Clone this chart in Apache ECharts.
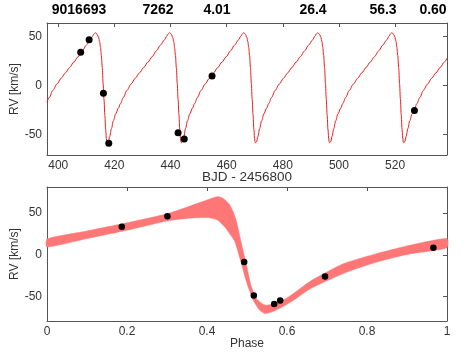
<!DOCTYPE html>
<html>
<head>
<meta charset="utf-8">
<script src="https://cdn.jsdelivr.net/npm/echarts@6/dist/echarts.min.js"></script>
<style>
html,body{margin:0;padding:0;background:#fff;}
#chart{width:471px;height:353px;}
</style>
</head>
<body>
<div id="chart"></div>
<script>
// ---------- data ----------
var headerLabels = ['9016693', '7262', '4.01', '26.4', '56.3', '0.60'];

var timeTicks = [400, 420, 440, 460, 480, 500, 520];
var rvTicks = [-50, 0, 50];

// observed RVs vs time (BJD - 2456800, km/s)
var obsTime = [[408.0, 34.0], [411.0, 46.8], [416.1, -7.8], [418.0, -59.0],
               [442.7, -48.2], [444.9, -54.6], [454.8, 9.8], [526.9, -25.4]];

// observed RVs vs phase
var obsPhase = [[0.187, 33.4], [0.301, 46.2], [0.493, -8.6], [0.517, -48.6],
                [0.568, -58.6], [0.583, -54.6], [0.695, -25.8], [0.966, 8.6]];

// model curve vs time
var modelCurve = [
 [396.0,-17],[396.85,-12],[398.05,-5],[399.55,1.5],[401.05,7.5],[402.55,13],[404.05,18.5],[405.55,24],
 [407.05,29.5],[408.55,35.5],[410.05,41.5],[411.35,46.5],[412.25,50.5],[412.75,52.8],[413.25,54],
 [413.55,53.5],[413.95,52],[414.35,49.5],[414.75,45],[415.05,39],[415.35,31],[415.7,18],[416.0,2],
 [416.3,-14],[416.6,-30],[416.9,-45],[417.15,-54],[417.3,-57.3],
 [417.45,-58.5],[417.85,-57.5],[418.35,-52],[418.95,-44],[419.65,-36],[420.45,-29],[421.45,-23],
 [422.15,-18.5],[423.25,-12],[424.45,-5],[425.95,1.5],[427.45,7.5],[428.95,13],[430.45,18.5],
 [431.95,24],[433.45,29.5],[434.95,35.5],[436.45,41.5],[437.75,46.5],[438.65,50.5],[439.15,52.8],
 [439.65,54],[439.95,53.5],[440.35,52],[440.75,49.5],[441.15,45],[441.45,39],[441.75,31],[442.1,18],
 [442.4,2],[442.7,-14],[443.0,-30],[443.3,-45],[443.55,-54],[443.7,-57.3],
 [443.85,-58.5],[444.25,-57.5],[444.75,-52],[445.35,-44],[446.05,-36],[446.85,-29],[447.85,-23],
 [448.55,-18.5],[449.65,-12],[450.85,-5],[452.35,1.5],[453.85,7.5],[455.35,13],[456.85,18.5],
 [458.35,24],[459.85,29.5],[461.35,35.5],[462.85,41.5],[464.15,46.5],[465.05,50.5],[465.55,52.8],
 [466.05,54],[466.35,53.5],[466.75,52],[467.15,49.5],[467.55,45],[467.85,39],[468.15,31],[468.5,18],
 [468.8,2],[469.1,-14],[469.4,-30],[469.7,-45],[469.95,-54],[470.1,-57.3],
 [470.25,-58.5],[470.65,-57.5],[471.15,-52],[471.75,-44],[472.45,-36],[473.25,-29],[474.25,-23],
 [474.95,-18.5],[476.05,-12],[477.25,-5],[478.75,1.5],[480.25,7.5],[481.75,13],[483.25,18.5],
 [484.75,24],[486.25,29.5],[487.75,35.5],[489.25,41.5],[490.55,46.5],[491.45,50.5],[491.95,52.8],
 [492.45,54],[492.75,53.5],[493.15,52],[493.55,49.5],[493.95,45],[494.25,39],[494.55,31],[494.9,18],
 [495.2,2],[495.5,-14],[495.8,-30],[496.1,-45],[496.35,-54],[496.5,-57.3],
 [496.65,-58.5],[497.05,-57.5],[497.55,-52],[498.15,-44],[498.85,-36],[499.65,-29],[500.65,-23],
 [501.35,-18.5],[502.45,-12],[503.65,-5],[505.15,1.5],[506.65,7.5],[508.15,13],[509.65,18.5],
 [511.15,24],[512.65,29.5],[514.15,35.5],[515.65,41.5],[516.95,46.5],[517.85,50.5],[518.35,52.8],
 [518.85,54],[519.15,53.5],[519.55,52],[519.95,49.5],[520.35,45],[520.65,39],[520.95,31],[521.3,18],
 [521.6,2],[521.9,-14],[522.2,-30],[522.5,-45],[522.75,-54],[522.9,-57.3],
 [523.05,-58.5],[523.45,-57.5],[523.95,-52],[524.55,-44],[525.25,-36],[526.05,-29],[527.05,-23],
 [527.75,-18.5],[528.85,-12],[530.05,-5],[531.55,1.5],[533.05,7.5],[534.55,13],[536.05,18.5],
 [537.55,24],[538.5,28]
];

// model band vs phase (upper and lower envelopes)
var bandUpper = [
 [0,19],[0.1,28.5],[0.2,38.2],[0.3,49],[0.35,57],[0.4,65.5],[0.425,69.5],[0.44,67.5],[0.455,61],
 [0.465,52],[0.474,39.4],[0.487,11.4],[0.499,-12.6],[0.51,-36.6],[0.524,-52.6],[0.545,-60],
 [0.57,-58],[0.603,-50.6],[0.66,-31],[0.741,-10.6],[0.824,1.4],[0.9075,11.4],[1.0,19.4]
];
var bandLower = [
 [0,9.4],[0.1,19.4],[0.2,29.4],[0.3,40.5],[0.35,43.5],[0.4,44.5],[0.425,42],[0.445,33],[0.46,23],
 [0.47,15.4],[0.4825,-4.6],[0.499,-32.6],[0.516,-54.6],[0.5325,-66.6],[0.545,-70],[0.56,-68.6],
 [0.587,-62.6],[0.62,-53],[0.66,-40],[0.75,-20.5],[0.825,-8.6],[0.9,0.5],[1.0,8.5]
];

// ---------- chart ----------
var FONT = '"Liberation Sans", Arial, Helvetica, sans-serif';
var axisCol = '#555';
var txtCol = '#333';
var headerX = [79, 158, 217, 313, 383, 433];

var chart = echarts.init(document.getElementById('chart'), null, {renderer: 'canvas'});

function mainX(gi, min, max, extra) {
  var o = {
    type: 'value', gridIndex: gi, min: min, max: max, position: 'bottom',
    axisLine: {show: true, onZero: false, lineStyle: {color: axisCol, width: 1}},
    axisTick: {show: false},
    splitLine: {show: false},
    axisLabel: {fontSize: 12, color: txtCol, fontFamily: FONT, margin: 5},
    nameLocation: 'middle', nameGap: 17, nameMoveOverlap: false,
    nameTextStyle: {fontSize: 12, color: txtCol, fontFamily: FONT}
  };
  for (var k in extra) o[k] = extra[k];
  return o;
}
function boxX(gi, min, max, ticks, interval) {
  var o = {
    type: 'value', gridIndex: gi, min: min, max: max, position: 'top',
    axisLine: {show: true, onZero: false, lineStyle: {color: axisCol, width: 1}},
    axisTick: {show: true, inside: true, length: 4, lineStyle: {color: axisCol}},
    axisLabel: {show: false}, splitLine: {show: false}
  };
  if (ticks) { o.axisTick.customValues = ticks; o.axisLabel.customValues = ticks; }
  if (interval) o.interval = interval;
  return o;
}
function mainY(gi, min, max) {
  return {
    type: 'value', gridIndex: gi, min: min, max: max, position: 'left',
    axisLine: {show: true, onZero: false, lineStyle: {color: axisCol, width: 1}},
    axisTick: {show: false, customValues: rvTicks},
    splitLine: {show: false},
    axisLabel: {fontSize: 12, color: txtCol, fontFamily: FONT, margin: 5, customValues: rvTicks},
    name: 'RV [km/s]', nameLocation: 'middle', nameGap: 26, nameMoveOverlap: false,
    nameTextStyle: {fontSize: 12, color: txtCol, fontFamily: FONT}
  };
}
function boxY(gi, min, max) {
  return {
    type: 'value', gridIndex: gi, min: min, max: max, position: 'right',
    axisLine: {show: true, onZero: false, lineStyle: {color: axisCol, width: 1}},
    axisTick: {show: true, inside: true, length: 4, lineStyle: {color: axisCol}, customValues: rvTicks},
    axisLabel: {show: false, customValues: rvTicks}, splitLine: {show: false}
  };
}

var xTop = mainX(0, 396, 538.5, {name: 'BJD - 2456800', nameGap: 15,
  nameTextStyle: {fontSize: 13.5, color: txtCol, fontFamily: FONT}});
xTop.axisLabel.customValues = timeTicks;
xTop.axisTick.customValues = timeTicks;
var xBot = mainX(1, 0, 1, {name: 'Phase', interval: 0.2});

var option = {
  animation: false,
  backgroundColor: '#fff',
  grid: [
    {left: 47, top: 23, width: 400, height: 132, outerBoundsMode: 'none', containLabel: false},
    {left: 47, top: 187, width: 400, height: 134, outerBoundsMode: 'none', containLabel: false}
  ],
  xAxis: [xTop, boxX(0, 396, 538.5, timeTicks), xBot, boxX(1, 0, 1, null, 0.2)],
  yAxis: [mainY(0, -71, 64), boxY(0, -71, 64), mainY(1, -79, 81), boxY(1, -79, 81)],
  graphic: headerLabels.map(function (t, i) {
    return {type: 'text', x: headerX[i], y: 10, silent: true,
      style: {text: t, fill: '#000', font: 'bold 14px ' + FONT, align: 'center', verticalAlign: 'middle'}};
  }),
  series: [
    {
      type: 'line', xAxisIndex: 0, yAxisIndex: 0, data: modelCurve,
      showSymbol: false, symbol: 'none', smooth: 0.35, smoothMonotone: 'x', clip: true,
      lineStyle: {color: '#ee1c1c', width: 1}, z: 2
    },
    {
      type: 'scatter', xAxisIndex: 0, yAxisIndex: 0, data: obsTime,
      symbol: 'circle', symbolSize: 7, itemStyle: {color: '#000', opacity: 1}, z: 3
    },
    {
      type: 'custom', xAxisIndex: 2, yAxisIndex: 2, data: [[0, 0]], z: 1,
      renderItem: function (params, api) {
        var pts = [];
        bandUpper.forEach(function (p) { pts.push(api.coord(p)); });
        for (var i = bandLower.length - 1; i >= 0; i--) pts.push(api.coord(bandLower[i]));
        return {type: 'polygon', shape: {points: pts, smooth: 0.2},
          style: {fill: '#ff7676', stroke: '#ff7676', lineWidth: 0.5}};
      }
    },
    {
      type: 'scatter', xAxisIndex: 2, yAxisIndex: 2, data: obsPhase,
      symbol: 'circle', symbolSize: 6.5, itemStyle: {color: '#000', opacity: 1}, z: 3
    }
  ]
};
chart.setOption(option);
</script>
</body>
</html>
